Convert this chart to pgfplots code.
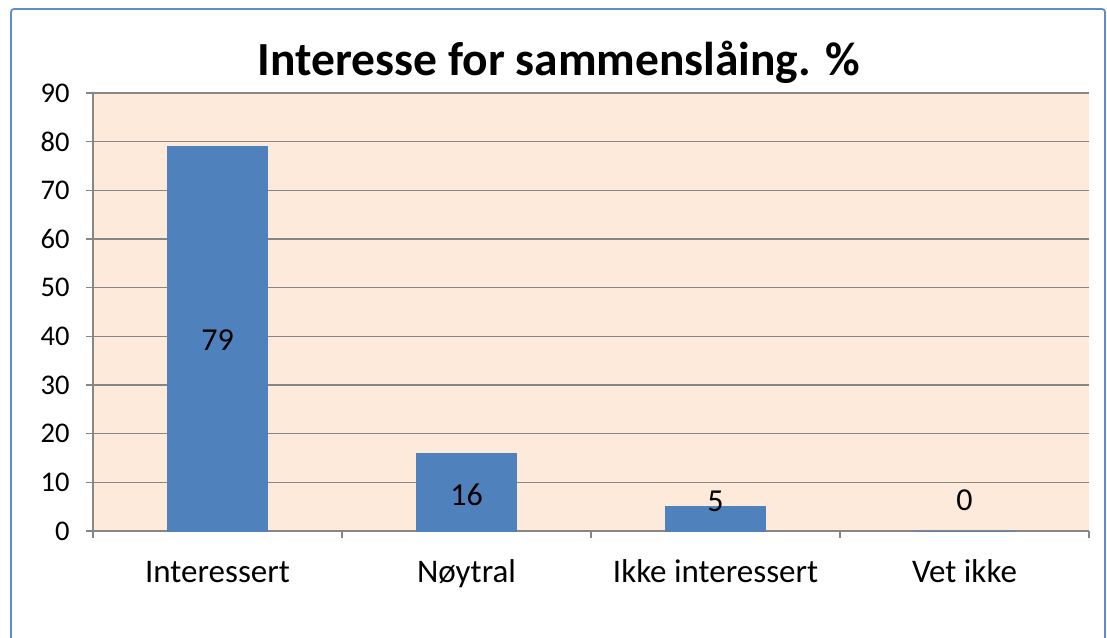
\documentclass[border=0pt]{standalone}
\usepackage{pgfplots}
\pgfplotsset{compat=1.18}
\usepackage{fontspec}
\setmainfont{Carlito}
\definecolor{peach}{RGB}{253,234,218}
\definecolor{barblue}{RGB}{79,129,189}
\definecolor{gridgray}{RGB}{134,134,134}
\definecolor{frameblue}{RGB}{96,140,204}
\begin{document}
\begin{tikzpicture}[x=1pt,y=1pt]
\useasboundingbox (-93,-106) rectangle (1014,531);
\begin{axis}[
  scale only axis,
  width=996pt, height=438pt,
  xmin=-0.5, xmax=3.5,
  ymin=0, ymax=90,
  ytick={0,10,...,90},
  xtick={-0.5,0.5,1.5,2.5,3.5},
  x tick label as interval,
  xticklabels={Interessert,Nøytral,Ikke interessert,Vet ikke},
  axis x line*=bottom,
  axis y line*=left,
  axis line style={draw=gridgray, line width=1.2pt, -},
  tick style={draw=gridgray, line width=1.2pt},
  tick align=outside,
  major tick length=7pt,
  ymajorgrids,
  grid style={draw=gridgray, line width=1.2pt},
  axis background/.style={fill=peach},
  yticklabel style={font=\fontsize{28.5}{32}\selectfont, xshift=-13pt},
  xticklabel style={font=\fontsize{33}{38}\selectfont, text height=22pt, text depth=7pt, anchor=north, yshift=-19pt},
  /pgf/number format/assume math mode=true,
  clip=false,
]
\addplot[ybar, bar width=100pt, bar shift=0pt, fill=barblue, draw=barblue] coordinates {(0,79) (1,16) (2,5) (3,0)};
\addplot[draw=none, mark=none, nodes near coords, point meta=explicit symbolic,
  every node near coord/.style={anchor=center, font=\fontsize{32}{36}\selectfont, text=black}]
  coordinates {(0,39.2)[79] (1,7.4)[16] (2,6.0)[5] (3,6.4)[0]};
\end{axis}
\node[font=\fontsize{47.5}{54}\selectfont\bfseries] at (466,469) {Interesse for sammenslåing. \%};
\draw[frameblue, line width=1.8pt, rounded corners=3pt] (-82,522) rectangle (1012,-130);
\end{tikzpicture}
\end{document}
